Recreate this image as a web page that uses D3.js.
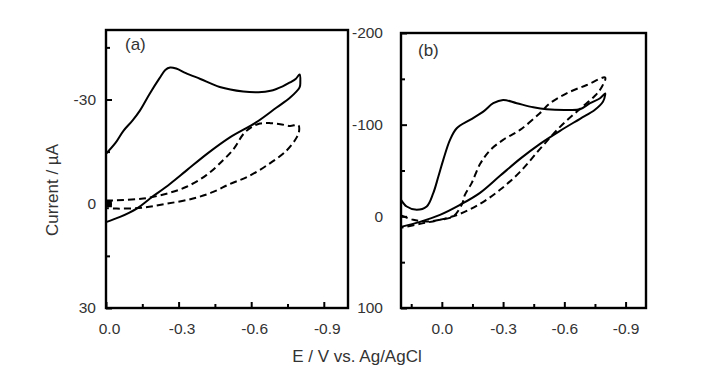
<!DOCTYPE html>
<html>
  <head>
    <script type="text/javascript" src="https://d3js.org/d3.v7.min.js"></script>
    <style>
      body { margin: 0; background: #fff; }
      text { font-family: "Liberation Sans", Arial, sans-serif; fill: #333; }
    </style>
  </head>
  <body>
  </body>
  <script>

// ---- datos: [E (V), I (uA)] ----
var solidA = [
  [0,-14.4],[-0.04,-17.6],[-0.072,-21],[-0.11,-24],[-0.14,-26.8],[-0.18,-31.6],[-0.22,-36],
  [-0.245,-38.5],[-0.265,-39.2],[-0.29,-38.9],[-0.33,-37.6],[-0.39,-35.9],[-0.47,-33.6],
  [-0.567,-32.3],[-0.63,-32.1],[-0.68,-32.5],[-0.73,-33.8],[-0.76,-34.9],[-0.785,-36],[-0.80,-37.2],
  [-0.803,-35],[-0.80,-33.5],[-0.76,-30.5],[-0.705,-27.7],[-0.62,-23.4],[-0.512,-19.1],[-0.42,-14.5],
  [-0.333,-9.6],[-0.264,-5.7],[-0.182,-1.5],[-0.127,1.4],[-0.058,3.8],[0,5.3]
];
var dashedA = [
  [0,-0.9],[-0.044,-1.0],[-0.154,-1.5],[-0.25,-2.9],[-0.333,-4.9],[-0.416,-8.3],[-0.485,-12.6],
  [-0.53,-16],[-0.567,-20],[-0.60,-22],[-0.636,-23.1],[-0.68,-23.2],[-0.72,-22.9],[-0.76,-22.4],
  [-0.795,-22.6],[-0.798,-21],[-0.788,-19.1],[-0.746,-15.3],[-0.664,-11],[-0.58,-7.6],[-0.512,-5.7],
  [-0.443,-3.4],[-0.36,-1.5],[-0.25,0],[-0.154,1.1],[-0.044,1.4],[0,1.2]
];
var markerA = [[-0.012,0]];

var solidB = [
  [0.20,-18],[0.172,-10.7],[0.123,-7.1],[0.074,-10.7],[0.042,-25.3],[0.017,-43.4],[-0.007,-61.6],
  [-0.04,-83.4],[-0.073,-96.1],[-0.138,-105.2],[-0.203,-114.2],[-0.252,-123.4],[-0.30,-127],
  [-0.367,-123.4],[-0.448,-119],[-0.513,-116.8],[-0.611,-116],[-0.677,-116.8],[-0.726,-123.4],
  [-0.775,-128.8],[-0.80,-134],[-0.80,-132.5],[-0.789,-124.9],[-0.75,-116.2],[-0.677,-106.4],
  [-0.579,-93.3],[-0.481,-79.1],[-0.383,-62.7],[-0.285,-44.2],[-0.187,-25.6],[-0.089,-12.5],
  [0.009,-1.6],[0.107,6],[0.20,11.5]
];
var dashedB = [
  [0.20,-1],[0.14,3.8],[0.074,5.7],[0.009,3.8],[-0.056,0],[-0.10,-14],[-0.113,-23.4],[-0.146,-36.2],
  [-0.187,-57],[-0.236,-72],[-0.30,-83.4],[-0.383,-94.3],[-0.48,-112.5],[-0.53,-123.4],[-0.611,-134.2],
  [-0.71,-143.3],[-0.80,-151.4],[-0.784,-141.3],[-0.75,-131.5],[-0.677,-117.3],[-0.579,-97.6],
  [-0.481,-73.6],[-0.383,-48.5],[-0.285,-28.9],[-0.187,-13.6],[-0.089,-2.7],[0.009,3.8],
  [0.107,8.2],[0.20,12.5]
];

// ticks
var xMajor = [0, -0.3, -0.6, -0.9];
var xLabels = ["0.0", "-0.3", "-0.6", "-0.9"];
var xMinorA = [-0.15, -0.45, -0.75];
var xMinorB = [0.15, -0.15, -0.45, -0.75];
var yMajorA = [-30, 0, 30];
var yLabelsA = ["-30", "0", "30"];
var yMinorA = [-45, -15, 15];
var yMajorB = [-200, -100, 0, 100];
var yLabelsB = ["-200", "-100", "0", "100"];
var yMinorB = [-150, -50, 50];

var svg = d3.select("body").append("svg").attr("width", 713).attr("height", 388);

var xA = d3.scaleLinear().domain([0, -1.0]).range([106, 348]);
var yA = d3.scaleLinear().domain([-50, 30]).range([30, 308]);
var xB = d3.scaleLinear().domain([0.2, -1.0]).range([401, 646]);
var yB = d3.scaleLinear().domain([-200, 100]).range([33, 308]);

function panel(x, y, xMinor, yMajor, yLabels, yMinor, yPad, xdx){
  var g = svg.append("g");
  var bottom = y.range()[1];
  var left = x.range()[0];

  // minor ticks
  g.append("g").attr("transform", "translate(0," + bottom + ")")
    .call(d3.axisBottom(x).tickValues(xMinor).tickSize(-4).tickFormat(""));
  g.append("g").attr("transform", "translate(" + left + ",0)")
    .call(d3.axisLeft(y).tickValues(yMinor).tickSize(-4).tickFormat(""));
  // major ticks
  g.append("g").attr("transform", "translate(0," + bottom + ")")
    .call(d3.axisBottom(x).tickValues(xMajor).tickSize(-6).tickPadding(15)
      .tickFormat(function(d, i){ return xLabels[i]; }))
    .selectAll("text").attr("dx", xdx);
  g.append("g").attr("transform", "translate(" + left + ",0)")
    .call(d3.axisLeft(y).tickValues(yMajor).tickSize(-6).tickPadding(yPad)
      .tickFormat(function(d, i){ return yLabels[i]; }));

  g.selectAll(".domain").remove();
  g.selectAll(".tick line").attr("stroke", "#000").attr("stroke-width", 2);
  g.selectAll(".tick text").style("font-size", "15.5px").attr("fill", "#333")
    .style("font-family", "'Liberation Sans', Arial, sans-serif");

  g.append("rect")
    .attr("x", x.range()[0]).attr("y", y.range()[0])
    .attr("width", x.range()[1] - x.range()[0])
    .attr("height", y.range()[1] - y.range()[0])
    .attr("fill", "none").attr("stroke", "#000").attr("stroke-width", 2.4);
  return g;
}

var gA = panel(xA, yA, xMinorA, yMajorA, yLabelsA, yMinorA, 10, 3);
var gB = panel(xB, yB, xMinorB, yMajorB, yLabelsB, yMinorB, 18, 0);

function curve(g, data, x, y, dashed){
  var line = d3.line().x(function(d){ return x(d[0]); }).y(function(d){ return y(d[1]); })
    .curve(d3.curveCatmullRom.alpha(0.5));
  g.append("path").datum(data).attr("d", line)
    .attr("fill", "none").attr("stroke", "#000").attr("stroke-width", 2)
    .attr("stroke-dasharray", dashed ? "7,4" : null)
    .attr("stroke-linejoin", "round");
}

curve(gA, solidA, xA, yA, false);
curve(gA, dashedA, xA, yA, true);
curve(gB, solidB, xB, yB, false);
curve(gB, dashedB, xB, yB, true);

gA.selectAll(".marker").data(markerA).enter().append("rect")
  .attr("x", function(d){ return xA(d[0]) - 3; })
  .attr("y", function(d){ return yA(d[1]) - 3.5; })
  .attr("width", 6).attr("height", 7).attr("fill", "#000");

// etiquetas
svg.append("text").attr("x", 125).attr("y", 50).style("font-size", "17px").text("(a)");
svg.append("text").attr("x", 418).attr("y", 56).style("font-size", "17px").text("(b)");

svg.append("text").attr("text-anchor", "middle")
  .attr("transform", "translate(57.5,190) rotate(-90)")
  .style("font-size", "17px").text("Current / µA");
svg.append("text").attr("text-anchor", "middle").attr("x", 357).attr("y", 362)
  .style("font-size", "17px").text("E / V vs. Ag/AgCl");

  </script>
</html>
